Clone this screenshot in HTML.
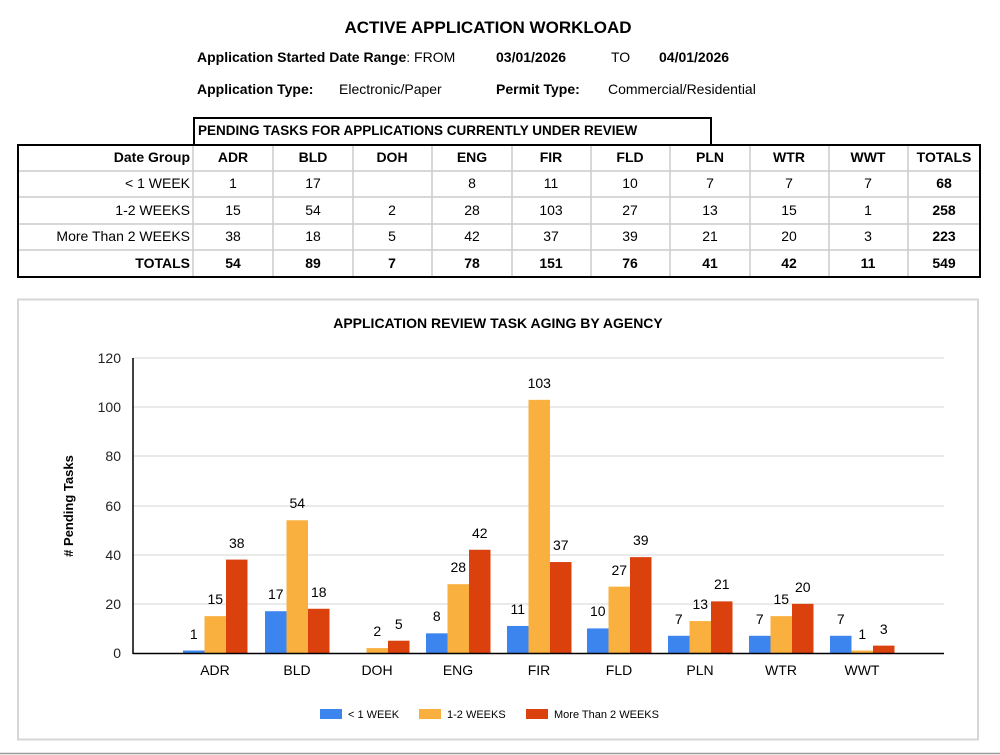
<!DOCTYPE html>
<html><head><meta charset="utf-8"><style>
body{margin:0;background:#fff;}
svg{display:block;font-family:"Liberation Sans",Arial,sans-serif;}
</style></head><body>
<svg width="1000" height="755" xmlns="http://www.w3.org/2000/svg">
<text x="488" y="33" font-size="17" font-weight="bold" text-anchor="middle">ACTIVE APPLICATION WORKLOAD</text>
<g font-size="14">
<text x="197" y="62" font-weight="bold">Application Started Date Range<tspan font-weight="normal">:  FROM</tspan></text>
<text x="496" y="62" font-weight="bold">03/01/2026</text>
<text x="611" y="62">TO</text>
<text x="659" y="62" font-weight="bold">04/01/2026</text>
<text x="197" y="94" font-weight="bold">Application Type:</text>
<text x="339" y="94">Electronic/Paper</text>
<text x="496" y="94" font-weight="bold">Permit Type:</text>
<text x="608" y="94">Commercial/Residential</text>
</g>
<rect x="194" y="118" width="517" height="27" fill="none" stroke="#000" stroke-width="2"/>
<text x="198" y="135" font-size="13.5" font-weight="bold">PENDING TASKS FOR APPLICATIONS CURRENTLY UNDER REVIEW</text>
<g stroke="#ccc" stroke-width="1.5">
<line x1="18" y1="171" x2="980" y2="171"/><line x1="18" y1="197" x2="980" y2="197"/><line x1="18" y1="224" x2="980" y2="224"/><line x1="18" y1="250" x2="980" y2="250"/>
<line x1="193" y1="145" x2="193" y2="277"/><line x1="273" y1="145" x2="273" y2="277"/><line x1="353" y1="145" x2="353" y2="277"/><line x1="432" y1="145" x2="432" y2="277"/><line x1="512" y1="145" x2="512" y2="277"/><line x1="591" y1="145" x2="591" y2="277"/><line x1="670" y1="145" x2="670" y2="277"/><line x1="750" y1="145" x2="750" y2="277"/><line x1="829" y1="145" x2="829" y2="277"/><line x1="908" y1="145" x2="908" y2="277"/>
</g>
<rect x="18" y="145" width="962" height="132" fill="none" stroke="#000" stroke-width="2"/>
<g font-size="14" text-anchor="end">
<text x="190" y="162" font-weight="bold">Date Group</text>
<text x="190" y="188">&lt; 1 WEEK</text>
<text x="190" y="215">1-2 WEEKS</text>
<text x="190" y="241">More Than 2 WEEKS</text>
<text x="190" y="268" font-weight="bold">TOTALS</text>
</g>
<g font-size="14" text-anchor="middle">
<g font-weight="bold"><text x="233" y="162">ADR</text><text x="313" y="162">BLD</text><text x="392" y="162">DOH</text><text x="472" y="162">ENG</text><text x="551" y="162">FIR</text><text x="630" y="162">FLD</text><text x="710" y="162">PLN</text><text x="789" y="162">WTR</text><text x="868" y="162">WWT</text><text x="944" y="162">TOTALS</text></g>
<text x="233" y="188">1</text><text x="313" y="188">17</text><text x="472" y="188">8</text><text x="551" y="188">11</text><text x="630" y="188">10</text><text x="710" y="188">7</text><text x="789" y="188">7</text><text x="868" y="188">7</text><text x="944" y="188" font-weight="bold">68</text>
<text x="233" y="215">15</text><text x="313" y="215">54</text><text x="392" y="215">2</text><text x="472" y="215">28</text><text x="551" y="215">103</text><text x="630" y="215">27</text><text x="710" y="215">13</text><text x="789" y="215">15</text><text x="868" y="215">1</text><text x="944" y="215" font-weight="bold">258</text>
<text x="233" y="241">38</text><text x="313" y="241">18</text><text x="392" y="241">5</text><text x="472" y="241">42</text><text x="551" y="241">37</text><text x="630" y="241">39</text><text x="710" y="241">21</text><text x="789" y="241">20</text><text x="868" y="241">3</text><text x="944" y="241" font-weight="bold">223</text>
<g font-weight="bold"><text x="233" y="268">54</text><text x="313" y="268">89</text><text x="392" y="268">7</text><text x="472" y="268">78</text><text x="551" y="268">151</text><text x="630" y="268">76</text><text x="710" y="268">41</text><text x="789" y="268">42</text><text x="868" y="268">11</text><text x="944" y="268">549</text></g>
</g>
<rect x="18" y="299.5" width="960" height="440" fill="#fff" stroke="#d6d6d6" stroke-width="2"/>
<line x1="0" y1="753.5" x2="1000" y2="753.5" stroke="#999" stroke-width="1.5"/>
<text x="498" y="328" font-size="14" font-weight="bold" text-anchor="middle">APPLICATION REVIEW TASK AGING BY AGENCY</text>
<g stroke="#ddd" stroke-width="1.2">
<line x1="133" y1="358" x2="944" y2="358"/><line x1="133" y1="407" x2="944" y2="407"/><line x1="133" y1="456" x2="944" y2="456"/><line x1="133" y1="506" x2="944" y2="506"/><line x1="133" y1="555" x2="944" y2="555"/><line x1="133" y1="604" x2="944" y2="604"/>
</g>
<g font-size="14" text-anchor="end" fill="#222">
<text x="121" y="363">120</text><text x="121" y="412">100</text><text x="121" y="461">80</text><text x="121" y="511">60</text><text x="121" y="560">40</text><text x="121" y="609">20</text><text x="121" y="658">0</text>
</g>
<text transform="translate(73,506) rotate(-90)" font-size="13" font-weight="bold" text-anchor="middle"># Pending Tasks</text>
<g>
<rect x="183" y="650.54" width="21.5" height="2.46" fill="#3d85ee"/>
<rect x="204.5" y="616.13" width="21.5" height="36.87" fill="#f9b03f"/>
<rect x="226" y="559.6" width="21.5" height="93.4" fill="#da410c"/>
<rect x="265" y="611.21" width="21.5" height="41.79" fill="#3d85ee"/>
<rect x="286.5" y="520.27" width="21.5" height="132.73" fill="#f9b03f"/>
<rect x="308" y="608.76" width="21.5" height="44.24" fill="#da410c"/>
<rect x="366.5" y="648.08" width="21.5" height="4.92" fill="#f9b03f"/>
<rect x="388" y="640.71" width="21.5" height="12.29" fill="#da410c"/>
<rect x="426" y="633.34" width="21.5" height="19.66" fill="#3d85ee"/>
<rect x="447.5" y="584.18" width="21.5" height="68.82" fill="#f9b03f"/>
<rect x="469" y="549.76" width="21.5" height="103.24" fill="#da410c"/>
<rect x="507" y="625.96" width="21.5" height="27.04" fill="#3d85ee"/>
<rect x="528.5" y="399.83" width="21.5" height="253.17" fill="#f9b03f"/>
<rect x="550" y="562.05" width="21.5" height="90.95" fill="#da410c"/>
<rect x="587" y="628.42" width="21.5" height="24.58" fill="#3d85ee"/>
<rect x="608.5" y="586.63" width="21.5" height="66.37" fill="#f9b03f"/>
<rect x="630" y="557.14" width="21.5" height="95.86" fill="#da410c"/>
<rect x="668" y="635.79" width="21.5" height="17.21" fill="#3d85ee"/>
<rect x="689.5" y="621.05" width="21.5" height="31.95" fill="#f9b03f"/>
<rect x="711" y="601.38" width="21.5" height="51.62" fill="#da410c"/>
<rect x="749" y="635.79" width="21.5" height="17.21" fill="#3d85ee"/>
<rect x="770.5" y="616.13" width="21.5" height="36.87" fill="#f9b03f"/>
<rect x="792" y="603.84" width="21.5" height="49.16" fill="#da410c"/>
<rect x="830" y="635.79" width="21.5" height="17.21" fill="#3d85ee"/>
<rect x="851.5" y="650.54" width="21.5" height="2.46" fill="#f9b03f"/>
<rect x="873" y="645.63" width="21.5" height="7.37" fill="#da410c"/>
</g>
<g font-size="14" text-anchor="middle">
<text x="193.75" y="639">1</text><text x="215.25" y="604">15</text><text x="236.75" y="548">38</text>
<text x="275.75" y="599">17</text><text x="297.25" y="508">54</text><text x="318.75" y="597">18</text>
<text x="377.25" y="636">2</text><text x="398.75" y="629">5</text>
<text x="436.75" y="621">8</text><text x="458.25" y="572">28</text><text x="479.75" y="538">42</text>
<text x="517.75" y="614">11</text><text x="539.25" y="388">103</text><text x="560.75" y="550">37</text>
<text x="597.75" y="616">10</text><text x="619.25" y="575">27</text><text x="640.75" y="545">39</text>
<text x="678.75" y="624">7</text><text x="700.25" y="609">13</text><text x="721.75" y="589">21</text>
<text x="759.75" y="624">7</text><text x="781.25" y="604">15</text><text x="802.75" y="592">20</text>
<text x="840.75" y="624">7</text><text x="862.25" y="639">1</text><text x="883.75" y="634">3</text>
</g>
<line x1="133" y1="358" x2="133" y2="654" stroke="#000" stroke-width="1.5"/>
<line x1="133" y1="653.5" x2="944" y2="653.5" stroke="#000" stroke-width="1.5"/>
<g font-size="14" text-anchor="middle">
<text x="215" y="675">ADR</text><text x="297" y="675">BLD</text><text x="377" y="675">DOH</text><text x="458" y="675">ENG</text><text x="539" y="675">FIR</text><text x="619" y="675">FLD</text><text x="700" y="675">PLN</text><text x="781" y="675">WTR</text><text x="862" y="675">WWT</text>
</g>
<rect x="320" y="709" width="22" height="10" fill="#3d85ee"/><text x="348" y="718" font-size="11">&lt; 1 WEEK</text>
<rect x="419" y="709" width="22" height="10" fill="#f9b03f"/><text x="447" y="718" font-size="11">1-2 WEEKS</text>
<rect x="526" y="709" width="22" height="10" fill="#da410c"/><text x="554" y="718" font-size="11">More Than 2 WEEKS</text>
</svg>
</body></html>
